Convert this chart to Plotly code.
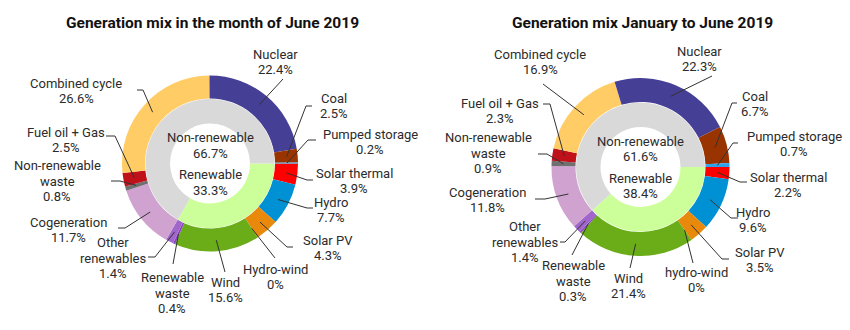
import math
import plotly.graph_objects as go

W, H = 850, 330

# Outer ring categories, listed clockwise from 3 o'clock
categories = ["Solar thermal", "Hydro", "Solar PV", "Hydro-wind", "Wind",
              "Renewable waste", "Other renewables", "Cogeneration",
              "Non-renewable waste", "Fuel oil + Gas", "Combined cycle",
              "Nuclear", "Coal", "Pumped storage"]
june_values = [3.9, 7.7, 4.3, 0, 15.6, 0.4, 1.4, 11.7, 0.8, 2.5, 26.6, 22.4, 2.5, 0.2]
h1_values = [2.2, 9.6, 3.5, 0, 21.4, 0.3, 1.4, 11.8, 0.9, 2.3, 16.9, 22.3, 6.7, 0.7]

# Inner ring groups
groups = ["Renewable", "Non-renewable"]
june_groups = [33.3, 66.7]
h1_groups = [38.4, 61.6]

titles = ["Generation mix in the month of June 2019", "Generation mix January to June 2019"]

june_names = ["Solar thermal", "Hydro", "Solar PV", "Hydro-wind", "Wind",
              "Renewable|waste", "Other|renewables", "Cogeneration",
              "Non-renewable|waste", "Fuel oil + Gas", "Combined cycle",
              "Nuclear", "Coal", "Pumped storage"]
h1_names = ["Solar thermal", "Hydro", "Solar PV", "hydro-wind", "Wind",
            "Renewable|waste", "Other|renewables", "Cogeneration",
            "Non-renewable|waste", "Fuel oil + Gas", "Combined cycle",
            "Nuclear", "Coal", "Pumped storage"]

outer_colors = ["#ff0000", "#0091d4", "#e8890c", "#4cb8e8", "#6aad18",
                "#8a45bf", "#a066cc", "#cfa2cf", "#707070", "#c0101a",
                "#ffcc66", "#463f96", "#993300", "#2ea3ec"]
inner_colors = ["#ccff99", "#d9d9d9"]

TEXT = "#2b2b2b"
FONT = "Roboto"
LABEL_SIZE = 13
LINE_GAP = 15.5

# Layout of each donut: centre (px), outer radius, label placement
charts = [
    dict(cx=210, cy=163.5, R=88, names=june_names, values=june_values,
         groups=june_groups, title_y=23,
         # label centre, elbow point, horizontal hook length
         labels=[(354, 181, 307, 180, 6), (331, 210, 307, 208, 6),
                 (328, 248, 287, 247, 6), (275, 277, 275, 258, 0),
                 (225, 290, 225, 272, 0), (172, 293, 173, 264, 0),
                 (113, 258, 155, 257, -7), (68, 230, 125, 228, -7),
                 (57, 181, 120, 181, -9), (66, 140, 115, 136, -9),
                 (76, 91, 143, 90, -6), (275, 62, 283, 79, 0),
                 (334, 106, 306, 106, 6), (370, 142, 308, 140, 8)]),
    dict(cx=640.5, cy=167, R=89, names=h1_names, values=h1_values,
         groups=h1_groups, title_y=23,
         labels=[(788, 185, 740, 182, 7), (753, 220, 731, 218, 7),
                 (760, 260, 722, 259, 7), (696, 280, 693, 263, 0),
                 (628, 286, 630, 268, 0), (573, 281, 572, 255, 0),
                 (525, 242, 565, 242, -5), (487, 200, 545, 199, -10),
                 (488, 153, 547, 154, -9), (500, 111, 550, 104, -7),
                 (540, 62, 543, 84, 0), (699, 59, 712, 76, 0),
                 (755, 104, 732, 103, 5), (794, 144, 733, 143, 5)]),
]

fig = go.Figure()
shapes = []
annotations = []


def dom_x(cx, r):
    return [(cx - r) / W, (cx + r) / W]


def dom_y(cy, r):
    return [1 - (cy + r) / H, 1 - (cy - r) / H]


def text_block(x, y, lines, size=LABEL_SIZE):
    """Stack lines of centred text around (x, y) with a fixed line gap."""
    n = len(lines)
    for i, line in enumerate(lines):
        annotations.append(dict(
            x=x, y=y + (i - (n - 1) / 2) * LINE_GAP, xref="x", yref="y",
            text=line, showarrow=False, xanchor="center", yanchor="middle",
            font=dict(family=FONT, size=size, color=TEXT)))


for ch, title in zip(charts, titles):
    cx, cy, R = ch["cx"], ch["cy"], ch["R"]
    r_in = 64.5
    # outer ring
    fig.add_trace(go.Pie(
        labels=categories, values=ch["values"], sort=False,
        direction="clockwise", rotation=90, hole=65 / R,
        marker=dict(colors=outer_colors, line=dict(width=0)),
        textinfo="none", hoverinfo="label+percent", showlegend=False,
        domain=dict(x=dom_x(cx, R), y=dom_y(cy, R))))
    # inner ring
    fig.add_trace(go.Pie(
        labels=groups, values=ch["groups"], sort=False,
        direction="clockwise", rotation=90, hole=40 / r_in,
        marker=dict(colors=inner_colors, line=dict(width=0)),
        textinfo="none", hoverinfo="label+percent", showlegend=False,
        domain=dict(x=dom_x(cx, r_in), y=dom_y(cy, r_in))))

    # title
    annotations.append(dict(x=cx + 2, y=ch["title_y"], xref="x", yref="y",
                            text=f"<b>{title}</b>", showarrow=False,
                            xanchor="center", yanchor="middle",
                            font=dict(family=FONT, size=15.5, color="#111111")))

    # centre labels for the inner ring
    text_block(cx, cy - 18, ["Non-renewable", f"{ch['groups'][1]:g}%"])
    text_block(cx, cy + 19, ["Renewable", f"{ch['groups'][0]:g}%"])

    # outer labels with leader lines from each slice midpoint
    total = sum(ch["values"])
    cum = 0.0
    for name, v, (lx, ly, ex, ey, hook) in zip(ch["names"], ch["values"], ch["labels"]):
        theta = math.radians(90 + 360 * (cum + v / 2) / total)
        cum += v
        sx = cx + 77 * math.sin(theta)
        sy = cy - 77 * math.cos(theta)
        path = f"M {sx:.1f},{sy:.1f} L {ex},{ey}"
        if hook:
            path += f" L {ex + hook},{ey}"
        shapes.append(dict(type="path", path=path, xref="x", yref="y",
                           line=dict(color="#333333", width=1), layer="above"))
        text_block(lx, ly, name.split("|") + [f"{v:g}%"])

fig.update_layout(
    width=W, height=H,
    margin=dict(l=0, r=0, t=0, b=0),
    paper_bgcolor="white", plot_bgcolor="rgba(0,0,0,0)",
    xaxis=dict(range=[0, W], visible=False, fixedrange=True, domain=[0, 1]),
    yaxis=dict(range=[H, 0], visible=False, fixedrange=True, domain=[0, 1]),
    shapes=shapes, annotations=annotations,
)

fig.write_html("out.html")
